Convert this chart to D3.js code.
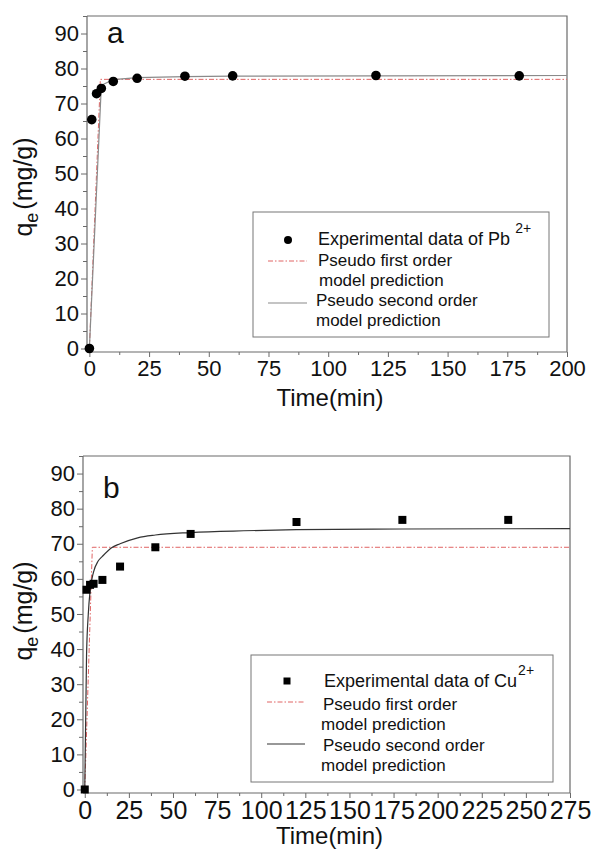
<!DOCTYPE html>
<html>
<head>
<meta charset="utf-8">
<script src="https://cdn.jsdelivr.net/npm/d3@7"></script>
<style>
  body { margin: 0; background: #fff; }
  svg { font-family: "Liberation Sans", Arial, sans-serif; }
</style>
</head>
<body>
<div id="chart"></div>
<script>
// Panel a: Pb2+
const pbTime   = [0, 1, 3, 5, 10, 20, 40, 60, 120, 180];
const pbQe     = [0, 65.4, 72.8, 74.3, 76.3, 77.2, 77.8, 77.9, 78.0, 77.9];
const pbFirstT  = [0, 4.6, 200];
const pbFirstQ  = [0, 76.9, 76.9];
const pbSecondT = [0, 5, 10, 20, 40, 60, 120, 200];
const pbSecondQ = [0, 75.2, 76.8, 77.4, 77.7, 77.8, 77.9, 78.0];
const pbXTicks  = [0, 25, 50, 75, 100, 125, 150, 175, 200];

// Panel b: Cu2+
const cuTime   = [0, 1, 3, 5, 10, 20, 40, 60, 120, 180, 240];
const cuQe     = [0, 56.9, 58.3, 58.6, 59.7, 63.5, 69.0, 72.8, 76.2, 76.8, 76.8];
const cuFirstT  = [0, 4.3, 275];
const cuFirstQ  = [0, 69.0, 69.0];
const cuSecondT = [0, 1, 2, 3, 5, 7.5, 10, 15, 20, 30, 40, 60, 90, 120, 180, 275];
const cuSecondQ = [0, 38, 50, 56.5, 62, 65, 66.4, 68.8, 70, 71.7, 72.5, 73.2, 73.7, 74.0, 74.2, 74.3];
const cuXTicks  = [0, 25, 50, 75, 100, 125, 150, 175, 200, 225, 250, 275];

const yTicks = [0, 10, 20, 30, 40, 50, 60, 70, 80, 90];

const W = 593, H = 851;
const svg = d3.select('#chart').append('svg').attr('width', W).attr('height', H);

const AXIS = '#6a6a6a';
const RED = '#e06464';
const zip = (a, b) => a.map((v, i) => [v, b[i]]);

function drawPanel(p) {
  const x = d3.scaleLinear().domain([-1, p.xMax]).range([p.left, p.right]);
  const y = d3.scaleLinear().domain([-1, 95]).range([p.bottom, p.top]);
  const g = svg.append('g');

  // frame (top + right)
  g.append('path')
    .attr('d', `M${p.left},${p.top}H${p.right}V${p.bottom}`)
    .attr('fill', 'none').attr('stroke', AXIS).attr('stroke-width', 1.2);

  // minor ticks
  const xMinor = p.xTicks.slice(0, -1).map(v => v + 12.5);
  const yMinor = yTicks.map(v => v + 5);
  g.append('g').attr('transform', `translate(0,${p.bottom})`)
    .call(d3.axisBottom(x).tickValues(xMinor).tickSize(3).tickFormat(''))
    .call(s => s.select('.domain').remove())
    .selectAll('line').attr('stroke', AXIS);
  g.append('g').attr('transform', `translate(${p.left},0)`)
    .call(d3.axisLeft(y).tickValues(yMinor).tickSize(4).tickFormat(''))
    .call(s => s.select('.domain').remove())
    .selectAll('line').attr('stroke', AXIS);

  // major axes
  const xa = g.append('g').attr('transform', `translate(0,${p.bottom})`)
    .call(d3.axisBottom(x).tickValues(p.xTicks).tickSize(5).tickSizeOuter(0).tickPadding(3));
  xa.select('.domain').attr('stroke', AXIS).attr('stroke-width', 1.2)
    .attr('d', `M${p.left},0H${p.right}`);
  xa.selectAll('line').attr('stroke', AXIS);
  xa.selectAll('text').attr('fill', '#111').attr('font-size', p.xFont);

  const ya = g.append('g').attr('transform', `translate(${p.left},0)`)
    .call(d3.axisLeft(y).tickValues(yTicks).tickSize(6).tickSizeOuter(0).tickPadding(2));
  ya.select('.domain').attr('stroke', AXIS).attr('stroke-width', 1.2)
    .attr('d', `M0,${p.bottom}V${p.top}`);
  ya.selectAll('line').attr('stroke', AXIS);
  ya.selectAll('text').attr('fill', '#111').attr('font-size', 22);

  // axis titles
  g.append('text').attr('x', (p.left + p.right) / 2 + 3).attr('y', p.titleY)
    .attr('text-anchor', 'middle').attr('font-size', 24).attr('fill', '#111').text('Time(min)');
  const yt = g.append('text')
    .attr('transform', `translate(32,${p.yTitleC}) rotate(-90)`)
    .attr('text-anchor', 'middle').attr('font-size', 25).attr('fill', '#111');
  yt.append('tspan').text('q');
  yt.append('tspan').attr('font-size', 18).attr('dy', 6).text('e');
  yt.append('tspan').attr('dy', -6).attr('dx', 3).text('(mg/g)');

  // panel letter
  g.append('text').attr('x', p.left + 20).attr('y', p.top + p.letterDy)
    .attr('font-size', 30).attr('fill', '#111').text(p.letter);

  // model lines
  const line = d3.line().x(d => x(d[0])).y(d => y(d[1]));
  g.append('path').datum(zip(p.firstT, p.firstQ))
    .attr('d', line).attr('fill', 'none').attr('stroke', RED)
    .attr('stroke-width', 1).attr('stroke-dasharray', '5,2,1.5,2');
  g.append('path').datum(zip(p.secondT, p.secondQ))
    .attr('d', line.curve(p.smooth ? d3.curveMonotoneX : d3.curveLinear))
    .attr('fill', 'none').attr('stroke', p.secondColor).attr('stroke-width', 1.2);

  // experimental points
  const pts = zip(p.time, p.qe);
  if (p.marker === 'circle') {
    g.selectAll('circle.pt').data(pts).join('circle').attr('class', 'pt')
      .attr('cx', d => x(d[0])).attr('cy', d => y(d[1])).attr('r', 4.8).attr('fill', '#000');
  } else {
    g.selectAll('rect.pt').data(pts).join('rect').attr('class', 'pt')
      .attr('x', d => x(d[0]) - 4).attr('y', d => y(d[1]) - 4)
      .attr('width', 8).attr('height', 8).attr('fill', '#000');
  }

  // legend
  const L = p.legend;
  g.append('rect').attr('x', L.x0).attr('y', L.y0).attr('width', L.x1 - L.x0).attr('height', L.y1 - L.y0)
    .attr('fill', '#fff').attr('stroke', '#777').attr('stroke-width', 1);
  if (p.marker === 'circle') {
    g.append('circle').attr('cx', L.mx).attr('cy', L.my).attr('r', 4).attr('fill', '#000');
  } else {
    g.append('rect').attr('x', L.mx - 3.5).attr('y', L.my - 3.5).attr('width', 7).attr('height', 7).attr('fill', '#000');
  }
  g.append('line').attr('x1', L.lx0).attr('x2', L.lx1).attr('y1', L.redY).attr('y2', L.redY)
    .attr('stroke', RED).attr('stroke-dasharray', '5,2,1.5,2');
  g.append('line').attr('x1', L.lx0).attr('x2', L.lx1).attr('y1', L.secY).attr('y2', L.secY)
    .attr('stroke', p.secondColor).attr('stroke-width', 1.2);

  const t0 = g.append('text').attr('x', L.tx).attr('y', L.rows[0]).attr('font-size', 18).attr('fill', '#111');
  t0.append('tspan').text(p.expLabel);
  t0.append('tspan').attr('font-size', 14).attr('dx', L.supDx).attr('dy', -12).text('2+');
  const labels = ['Pseudo first order', 'model prediction', 'Pseudo second order', 'model prediction'];
  labels.forEach((t, i) => {
    g.append('text').attr('x', L.tx + L.dx[i]).attr('y', L.rows[i + 1])
      .attr('font-size', 17).attr('fill', '#111').text(t);
  });
}

drawPanel({
  letter: 'a', letterDy: 27,
  left: 87, right: 567, top: 16, bottom: 352, xMax: 200,
  xTicks: pbXTicks, xFont: 22, titleY: 406, yTitleC: 187,
  time: pbTime, qe: pbQe, firstT: pbFirstT, firstQ: pbFirstQ,
  secondT: pbSecondT, secondQ: pbSecondQ, secondColor: '#8a8a8a', smooth: false,
  marker: 'circle', expLabel: 'Experimental data of Pb',
  legend: { x0: 253, y0: 212, x1: 549, y1: 337, mx: 288, my: 240, lx0: 268, lx1: 307,
            redY: 261, secY: 303, tx: 318, supDx: 5,
            rows: [245, 266, 286, 306, 326], dx: [0, 1, -2, -2] }
});

drawPanel({
  letter: 'b', letterDy: 42,
  left: 83, right: 570, top: 456, bottom: 793, xMax: 275,
  xTicks: cuXTicks, xFont: 25, titleY: 844, yTitleC: 611,
  time: cuTime, qe: cuQe, firstT: cuFirstT, firstQ: cuFirstQ,
  secondT: cuSecondT, secondQ: cuSecondQ, secondColor: '#333', smooth: true,
  marker: 'square', expLabel: 'Experimental data of Cu',
  legend: { x0: 251, y0: 655, x1: 553, y1: 782, mx: 287, my: 681, lx0: 267, lx1: 305,
            redY: 702, secY: 744, tx: 324, supDx: 1,
            rows: [687, 710, 730, 751, 771], dx: [-1, -3, -1, -3] }
});
</script>
</body>
</html>
